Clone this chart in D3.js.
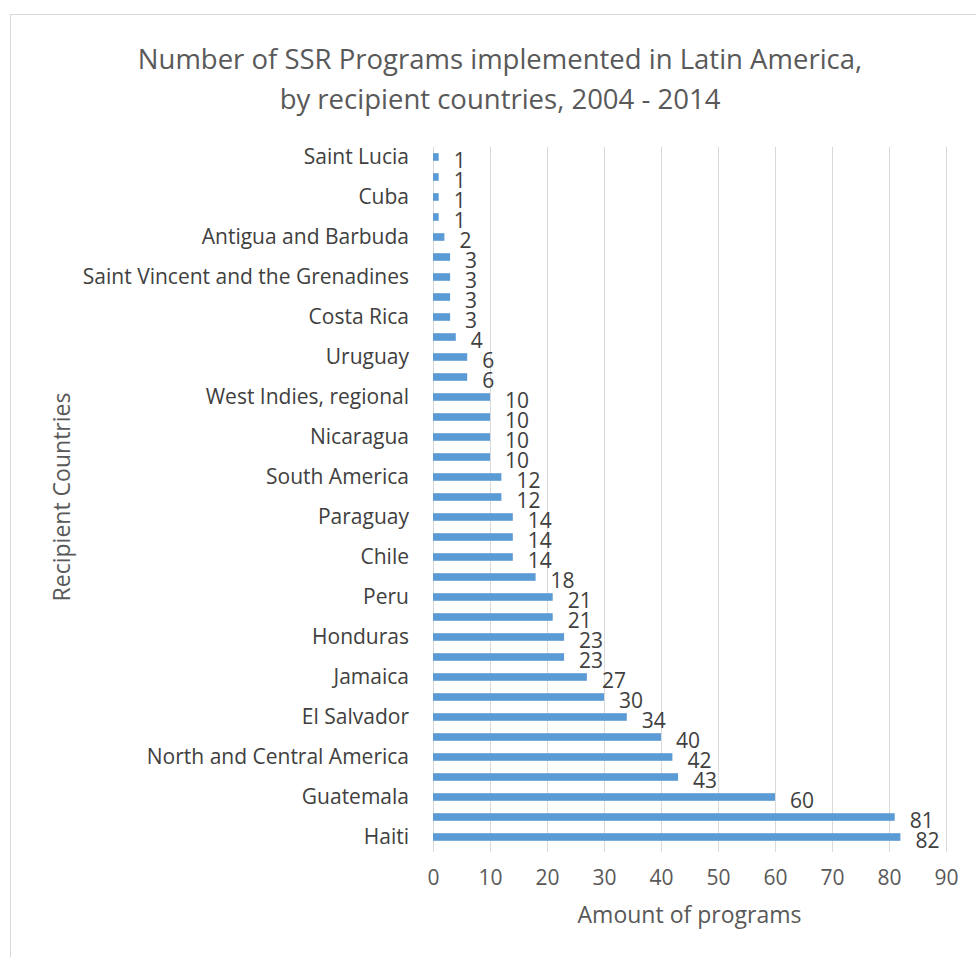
<!DOCTYPE html>
<html>
<head>
<meta charset="utf-8">
<script src="https://cdn.jsdelivr.net/npm/d3@7"></script>
<style>
  html, body { margin: 0; padding: 0; background: #fff; }
  svg { display: block; }
  text { font-family: "Open Sans", sans-serif; }
</style>
</head>
<body>
<svg id="chart" width="976" height="957"></svg>
<script>
// Categories from top to bottom (only every other label is shown, as in the source chart)
const countries = [
  "Saint Lucia", "Grenada", "Cuba", "Saint Kitts and Nevis", "Antigua and Barbuda",
  "Dominica", "Saint Vincent and the Grenadines", "Suriname", "Costa Rica", "Bahamas",
  "Uruguay", "Belize", "West Indies, regional", "Venezuela", "Nicaragua",
  "Panama", "South America", "Argentina", "Paraguay", "Ecuador",
  "Chile", "Dominican Republic", "Peru", "Bolivia", "Honduras",
  "Trinidad and Tobago", "Jamaica", "Barbados", "El Salvador", "America, regional",
  "North and Central America", "Mexico", "Guatemala", "Colombia", "Haiti"
];
const programs = [
  1, 1, 1, 1, 2,
  3, 3, 3, 3, 4,
  6, 6, 10, 10, 10,
  10, 12, 12, 14, 14,
  14, 18, 21, 21, 23,
  23, 27, 30, 34, 40,
  42, 43, 60, 81, 82
];
const xTicks = [0, 10, 20, 30, 40, 50, 60, 70, 80, 90];
const titleLines = ["Number of SSR Programs implemented in Latin America,", "by recipient countries, 2004 - 2014"];
const xTitle = "Amount of programs";
const yTitle = "Recipient Countries";

const data = countries.map((c, i) => ({ country: c, value: programs[i] }));

const svg = d3.select("#chart");
const plot = { left: 433, right: 946, top: 147, bottom: 847 };

// chart area border
svg.append("rect")
  .attr("x", 10.5).attr("y", 14.5)
  .attr("width", 980).attr("height", 960)
  .attr("fill", "#fff").attr("stroke", "#d9d9d9").attr("stroke-width", 1);

const x = d3.scaleLinear().domain([0, 90]).range([plot.left, plot.right]);
const y = d3.scaleBand().domain(countries).range([plot.top, plot.bottom])
  .paddingInner(0.62).paddingOuter(0.31);

// gridlines + tick marks
svg.append("g").selectAll("line").data(xTicks).enter().append("line")
  .attr("x1", d => Math.round(x(d)) + 0.5).attr("x2", d => Math.round(x(d)) + 0.5)
  .attr("y1", plot.top).attr("y2", plot.bottom + 5)
  .attr("stroke", "#d9d9d9").attr("stroke-width", 1);

// x axis labels
const xAxis = d3.axisBottom(x).tickValues(xTicks).tickSize(0).tickPadding(0);
const gx = svg.append("g").attr("transform", `translate(0,${plot.bottom + 38})`).call(xAxis);
gx.select(".domain").remove();
gx.selectAll("text")
  .attr("dy", null).attr("y", 0)
  .style("font-family", "'Open Sans', sans-serif")
  .style("font-size", "21px").attr("fill", "#595959");

// category axis labels (every other)
const yAxis = d3.axisLeft(y).tickSize(0).tickPadding(0)
  .tickFormat((d, i) => (i % 2 === 0 ? d : ""));
const gy = svg.append("g").attr("transform", `translate(${plot.left - 24},0)`).call(yAxis);
gy.select(".domain").remove();
gy.selectAll("text")
  .style("font-family", "'Open Sans', sans-serif")
  .style("font-size", "21px").attr("fill", "#404040");

// bars
svg.append("g").selectAll("rect").data(data).enter().append("rect")
  .attr("x", x(0))
  .attr("y", d => y(d.country))
  .attr("width", d => x(d.value) - x(0))
  .attr("height", y.bandwidth())
  .attr("fill", "#5b9bd5");

// data labels
svg.append("g").selectAll("text").data(data).enter().append("text")
  .attr("x", d => x(d.value) + 15)
  .attr("y", d => y(d.country) + y.bandwidth() / 2 + 3.5)
  .attr("dy", "0.35em")
  .attr("fill", "#404040")
  .style("font-size", "21px")
  .text(d => d.value);

// title
svg.append("g").selectAll("text").data(titleLines).enter().append("text")
  .attr("x", 500).attr("y", (d, i) => 69 + i * 40)
  .attr("text-anchor", "middle")
  .attr("fill", "#595959")
  .style("font-size", "27.5px")
  .text(d => d);

// axis titles
svg.append("text")
  .attr("x", (plot.left + plot.right) / 2).attr("y", 923)
  .attr("text-anchor", "middle").attr("fill", "#595959")
  .style("font-size", "23px").text(xTitle);

svg.append("text")
  .attr("transform", `translate(70,${(plot.top + plot.bottom) / 2}) rotate(-90)`)
  .attr("text-anchor", "middle").attr("fill", "#595959")
  .style("font-size", "23px").text(yTitle);
</script>
</body>
</html>
